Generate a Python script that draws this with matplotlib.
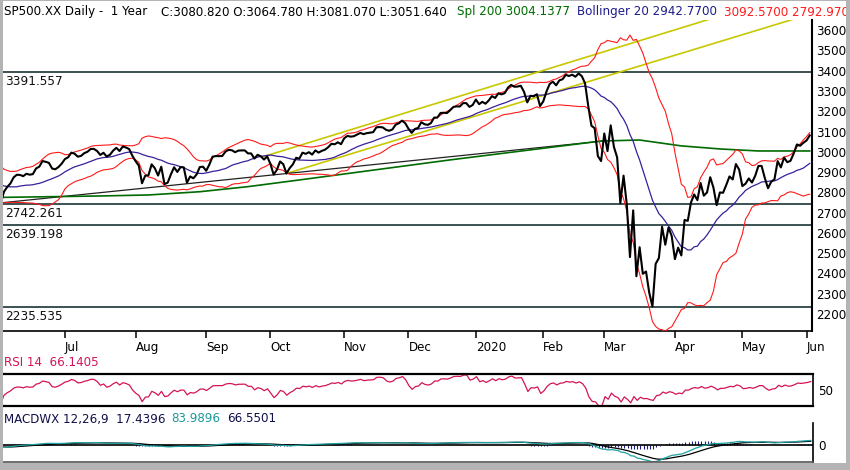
"""SP500 daily, 1 year: price with Bollinger 20 / SMA 200, RSI 14 and MACD panels."""

import matplotlib
matplotlib.use("Agg")
import matplotlib.pyplot as plt
import numpy as np
import pandas as pd
from matplotlib.patches import Rectangle

W, H = 850, 470

# --- data ----------------------------------------------------------------
# daily closes 3 Jun 2019 .. 2 Jun 2020
close = [
    2744.45, 2803.27, 2826.15, 2843.49, 2873.34, 2886.73, 2885.72, 2879.84, 2891.64, 2886.98,
    2889.67, 2917.75, 2926.46, 2954.18, 2950.46, 2945.35, 2917.38, 2913.78, 2924.92, 2941.76,
    # Jul
    2964.33, 2973.01, 2995.82, 2990.41, 2975.95, 2979.63, 2993.07, 2999.91, 3013.77, 3014.30,
    3004.04, 2984.42, 2995.11, 2976.61, 2985.03, 3005.47, 3019.56, 3003.67, 3025.86, 3020.97,
    3013.18, 2980.38,
    # Aug
    2953.56, 2932.05, 2844.74, 2881.77, 2883.98, 2938.09, 2918.65, 2882.70, 2926.32, 2840.60,
    2847.60, 2888.68, 2923.65, 2900.51, 2924.43, 2922.95, 2847.11, 2878.38, 2869.16, 2887.94,
    2924.58, 2926.46,
    # Sep
    2906.27, 2937.78, 2976.00, 2978.71, 2978.43, 2979.39, 3000.93, 3009.57, 3007.39, 2997.96,
    3005.70, 3006.73, 3006.79, 2992.07, 2991.78, 2966.60, 2984.87, 2977.62, 2961.79, 2976.74,
    # Oct
    2940.25, 2887.61, 2910.63, 2952.01, 2938.79, 2893.06, 2919.40, 2938.13, 2970.27, 2966.15,
    2995.68, 2989.69, 2997.95, 2986.20, 3006.72, 2995.99, 3004.52, 3010.29, 3022.55, 3039.42,
    3036.89, 3046.77, 3037.56,
    # Nov
    3066.91, 3078.27, 3074.62, 3076.78, 3085.18, 3093.08, 3087.01, 3091.84, 3094.04, 3096.63,
    3120.46, 3122.03, 3120.18, 3108.46, 3103.54, 3110.29, 3133.64, 3140.52, 3153.63, 3140.98,
    # Dec
    3113.87, 3093.20, 3112.76, 3117.43, 3145.91, 3135.96, 3132.52, 3141.63, 3168.57, 3168.80,
    3191.45, 3192.52, 3191.14, 3205.37, 3221.22, 3224.01, 3223.38, 3239.91, 3240.02, 3221.29,
    3230.78,
    # Jan
    3257.85, 3234.85, 3246.28, 3237.18, 3253.05, 3274.70, 3265.35, 3288.13, 3283.15, 3289.29,
    3316.81, 3329.62, 3320.79, 3321.75, 3325.54, 3295.47, 3243.63, 3276.24, 3273.40, 3283.66,
    3225.52,
    # Feb
    3248.92, 3297.59, 3334.69, 3345.78, 3327.71, 3352.09, 3357.75, 3379.45, 3373.94, 3380.16,
    3370.29, 3386.15, 3373.23, 3337.75, 3225.89, 3128.21, 3116.39, 2978.76, 2954.22,
    # Mar
    3090.23, 3003.37, 3130.12, 3023.94, 2972.37, 2746.56, 2882.23, 2741.38, 2480.64, 2711.02,
    2386.13, 2529.19, 2398.10, 2409.39, 2304.92, 2237.40, 2447.33, 2475.56, 2630.07, 2541.47,
    2626.65, 2584.59,
    # Apr
    2470.50, 2526.90, 2488.65, 2663.68, 2659.41, 2749.98, 2789.82, 2761.63, 2846.06, 2783.36,
    2799.55, 2874.56, 2823.16, 2736.56, 2799.31, 2797.80, 2836.74, 2878.48, 2863.39, 2939.51,
    2912.43,
    # May
    2830.71, 2842.74, 2868.44, 2848.42, 2881.19, 2929.80, 2930.32, 2870.12, 2820.00, 2852.50,
    2863.70, 2953.91, 2922.94, 2971.61, 2948.51, 2955.45, 2991.77, 3036.13, 3029.73, 3044.31,
    # Jun
    3055.73, 3080.82,
]
# May 2019 closes, only used to warm up the indicators
warmup = [
    2923.73, 2917.52, 2945.64, 2932.47, 2884.05, 2879.42, 2870.72, 2881.40, 2811.87, 2834.41,
    2850.96, 2876.32, 2859.53, 2840.23, 2864.36, 2856.27, 2822.24, 2826.06, 2802.39, 2783.02,
    2788.86, 2752.06,
]
holidays = ["2019-07-04", "2019-09-02", "2019-11-28", "2019-12-25", "2020-01-01",
            "2020-01-20", "2020-02-17", "2020-04-10", "2020-05-25"]

# 200-day average (trading-day index, value)
sma_idx = [0, 31, 46, 62, 77, 93, 140, 187, 199, 212, 224, 236, 252]
sma_val = [2775, 2782, 2787, 2803, 2828, 2861, 2960, 3053, 3058, 3029, 3014, 3004, 3004]

levels = [3391.557, 2742.261, 2639.198, 2235.535]
trend_idx, trend_val = [0, 187], [2748, 3052]
chan_hi_idx, chan_hi_val = [82, 222], [2977, 3660]
chan_lo_idx, chan_lo_val = [89, 249], [2893, 3664]
price_ticks = list(range(2200, 3700, 100))

# --- indicators ----------------------------------------------------------
dates = pd.bdate_range("2019-06-03", "2020-06-02")
dates = dates[~dates.isin(pd.to_datetime(holidays))]
assert len(dates) == len(close)
n0 = len(warmup)
s = pd.Series(warmup + close, dtype=float)

mid = s.rolling(20).mean()
sd = s.rolling(20).std(ddof=0)
upper, lower = mid + 2 * sd, mid - 2 * sd

d = s.diff().iloc[1:]
gain = d.clip(lower=0).ewm(alpha=1 / 14, adjust=False).mean()
loss = (-d.clip(upper=0)).ewm(alpha=1 / 14, adjust=False).mean()
rsi = (100 - 100 / (1 + gain / loss)).reindex(s.index)

macd = s.ewm(span=12, adjust=False).mean() - s.ewm(span=26, adjust=False).mean()
signal = macd.ewm(span=9, adjust=False).mean()
hist = macd - signal

x = np.arange(len(close))
mid, upper, lower = mid.values[n0:], upper.values[n0:], lower.values[n0:]
rsi, macd, signal, hist = rsi.values[n0:], macd.values[n0:], signal.values[n0:], hist.values[n0:]

# month ticks at first trading day of each month (skip the partial first month)
first = [i for i in range(1, len(dates)) if dates[i].month != dates[i - 1].month]
mlabels = ["2020" if dates[i].month == 1 else dates[i].strftime("%b") for i in first]

# --- figure --------------------------------------------------------------
plt.rcParams["font.family"] = "DejaVu Sans"
fig = plt.figure(figsize=(W / 100, H / 100), dpi=100, facecolor="white")


def px_axes(x0, y0, x1, y1):
    return fig.add_axes([x0 / W, 1 - y1 / H, (x1 - x0) / W, (y1 - y0) / H])


def fig_text(px, py, s, color, fs=8.6):
    fig.text(px / W, 1 - py / H, s, color=color, fontsize=fs, ha="left", va="center")


XL = (0.7, 252.7)
GREEN, NAVY, RED, YEL, SLATE = "#006b00", "#3a1f9a", "#ff1a1a", "#c8c800", "#2c4444"

ax = px_axes(3, 20, 812, 331)
ax.set_xlim(*XL)
ax.set_ylim(2116, 3650)
for lv in levels:
    ax.axhline(lv, color=SLATE, lw=1.3, zorder=1)
    ax.annotate(f"{lv:.3f}", xy=(0, lv), xycoords=ax.get_yaxis_transform(),
                xytext=(2, -3), textcoords="offset pixels", ha="left", va="top",
                fontsize=8.7, color="#111111")
ax.plot(chan_hi_idx, chan_hi_val, color=YEL, lw=1.2, zorder=2)
ax.plot(chan_lo_idx, chan_lo_val, color=YEL, lw=1.2, zorder=2)
ax.plot(trend_idx, trend_val, color="#222222", lw=0.9, zorder=2)
ax.plot(sma_idx, sma_val, color=GREEN, lw=1.2, zorder=3)
ax.plot(x, upper, color=RED, lw=0.8, zorder=3)
ax.plot(x, lower, color=RED, lw=0.8, zorder=3)
ax.plot(x, mid, color=NAVY, lw=0.9, zorder=3)
ax.plot(x, close, color="black", lw=1.5, zorder=4)

ax.yaxis.tick_right()
ax.set_yticks(price_ticks)
ax.tick_params(axis="y", length=0, pad=3, labelsize=8.6)
ax.set_xticks(first)
ax.set_xticklabels(mlabels)
for lab in ax.get_xticklabels():
    lab.set_ha("left")
ax.tick_params(axis="x", direction="out", length=5, width=1.1, pad=2, labelsize=8.6)
for side in ("top", "left"):
    ax.spines[side].set_visible(False)
ax.spines["right"].set_linewidth(1.5)
ax.spines["bottom"].set_linewidth(1.2)

# RSI panel
ar = px_axes(3, 374, 813, 406)
ar.set_xlim(*XL)
ar.set_ylim(19.5, 80.5)
ar.plot(x, rsi, color="#d4145a", lw=0.9)
ar.yaxis.tick_right()
ar.set_yticks([50])
ar.set_xticks([])
ar.tick_params(axis="y", length=0, pad=4, labelsize=8.6)
ar.spines["left"].set_visible(False)
for side in ("top", "bottom"):
    ar.spines[side].set_linewidth(1.6)
ar.spines["right"].set_linewidth(1.2)

# MACD panel
am = px_axes(3, 423, 813, 462)
am.set_xlim(*XL)
lo = np.nanmin(macd)
am.set_ylim(lo, -lo * 22 / 17)
am.vlines(x, 0, hist, color="#1a1a80", lw=0.8)
am.axhline(0, color="black", lw=1.2)
am.plot(x, signal, color="black", lw=0.9)
am.plot(x, macd, color="#20a0a0", lw=0.9)
am.yaxis.tick_right()
am.set_yticks([0])
am.set_xticks([])
am.tick_params(axis="y", length=0, pad=4, labelsize=8.6)
for side in ("top", "left"):
    am.spines[side].set_visible(False)
am.spines["right"].set_linewidth(1.2)
am.spines["bottom"].set_color("#555555")
am.spines["bottom"].set_linewidth(1.2)

# headers
fig_text(4, 12, "SP500.XX Daily -  1 Year", "black")
fig_text(161, 12, "C:3080.820 O:3064.780 H:3081.070 L:3051.640", "black")
fig_text(457, 12, "Spl 200 3004.1377", GREEN)
fig_text(577, 12, "Bollinger 20 2942.7700", "#1c1c8c")
fig_text(724, 12, "3092.5700 2792.970", RED)
fig_text(4, 362, "RSI 14  66.1405", "#d4145a")
fig_text(4, 419, "MACDWX 12,26,9  17.4396", "#10104a")
fig_text(171, 419, "83.9896", "#1a9a9a")
fig_text(227, 419, "66.5501", "#10104a")

# grey window frame
for (x0, y0, w, h) in [(0, 0, 3, H), (846, 0, 4, H), (0, 463, W, 7), (0, 0, W, 1)]:
    fig.add_artist(Rectangle((x0 / W, 1 - (y0 + h) / H), w / W, h / H,
                             transform=fig.transFigure, facecolor="#b4b4b4",
                             edgecolor="none", zorder=10))

fig.savefig("out.png", dpi=100, facecolor="white")
